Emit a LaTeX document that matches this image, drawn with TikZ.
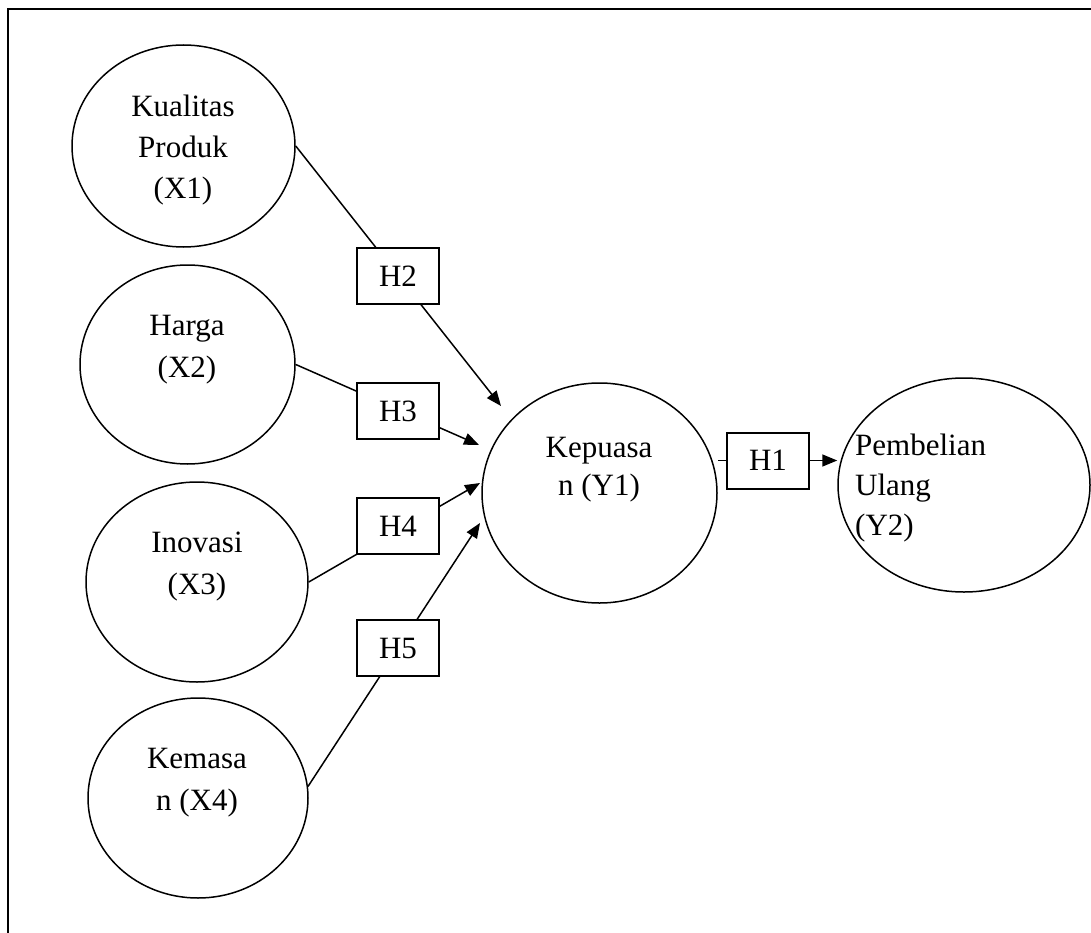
\documentclass[tikz,border=0pt]{standalone}
\usepackage{fontspec}
\setmainfont{Liberation Serif}
\usetikzlibrary{shapes.geometric,arrows.meta}
\begin{document}
\begin{tikzpicture}[x=1pt,y=-1pt,
  var/.style={ellipse,draw,line width=1.5pt,inner sep=0pt},
  hbox/.style={draw,fill=white,line width=2pt,minimum width=82pt,minimum height=56pt,inner sep=0pt,font=\fontsize{31}{41}\selectfont},
  lbl/.style={anchor=base,inner sep=0pt,font=\fontsize{31}{41}\selectfont},
  conn/.style={line width=1.5pt},
  arr/.style={line width=1.5pt,-{Triangle[length=15pt,width=12pt]}}]
\useasboundingbox (0,0) rectangle (1091,933);
% frame
\draw[line width=2.2pt] (8,933) -- (8,9) -- (1091,9);
% ellipses
\node[var,minimum width=223pt,minimum height=202pt] (x1) at (183.5,146) {};
\node[var,minimum width=215pt,minimum height=199pt] (x2) at (187.5,364.5) {};
\node[var,minimum width=222pt,minimum height=200pt] (x3) at (197,582) {};
\node[var,minimum width=220pt,minimum height=200pt] (x4) at (198,798) {};
\node[var,minimum width=235pt,minimum height=220pt] (y1) at (599.5,493) {};
\node[var,minimum width=252pt,minimum height=214pt] (y2) at (964,485) {};
% texts
\node[lbl] (t11) at (183,117) {Kualitas};
\node[lbl] (t12) at (183,158) {Produk};
\node[lbl] (t13) at (183,199) {(X1)};
\node[lbl] (t21) at (187,335) {Harga};
\node[lbl] (t22) at (187,377) {(X2)};
\node[lbl] (t31) at (197,552) {Inovasi};
\node[lbl] (t32) at (197,594) {(X3)};
\node[lbl] (t41) at (197,768) {Kemasa};
\node[lbl] (t42) at (197,810) {n (X4)};
\node[lbl] (ty11) at (599,457) {Kepuasa};
\node[lbl] (ty12) at (599,495) {n (Y1)};
\node[lbl,anchor=base west] (ty21) at (855,455) {Pembelian};
\node[lbl,anchor=base west] (ty22) at (855,495) {Ulang};
\node[lbl,anchor=base west] (ty23) at (855,535) {(Y2)};
% arrow tips near Y1
\coordinate (tip2) at (501,406);
\coordinate (tip3) at (479,445);
\coordinate (tip4) at (480,483);
\coordinate (tip5) at (480,523);
% connectors
\draw[arr] (x1.east) -- (tip2);
\draw[arr] (x2.east) -- (tip3);
\draw[arr] (x3.east) -- (tip4);
\draw[arr] (x4.6) -- (tip5);
% hypothesis boxes
\node[hbox] (h2) at (398,276) {H2};
\node[hbox] (h3) at (398,411) {H3};
\node[hbox] (h4) at (398,526) {H4};
\node[hbox] (h5) at (398,648) {H5};
\node[hbox] (h1) at (768,460.5) {H1};
\draw[conn] (y1.east |- h1.west) -- (h1.west);
\draw[arr] (h1.east) -- (y2.west |- h1.east);
\end{tikzpicture}
\end{document}
